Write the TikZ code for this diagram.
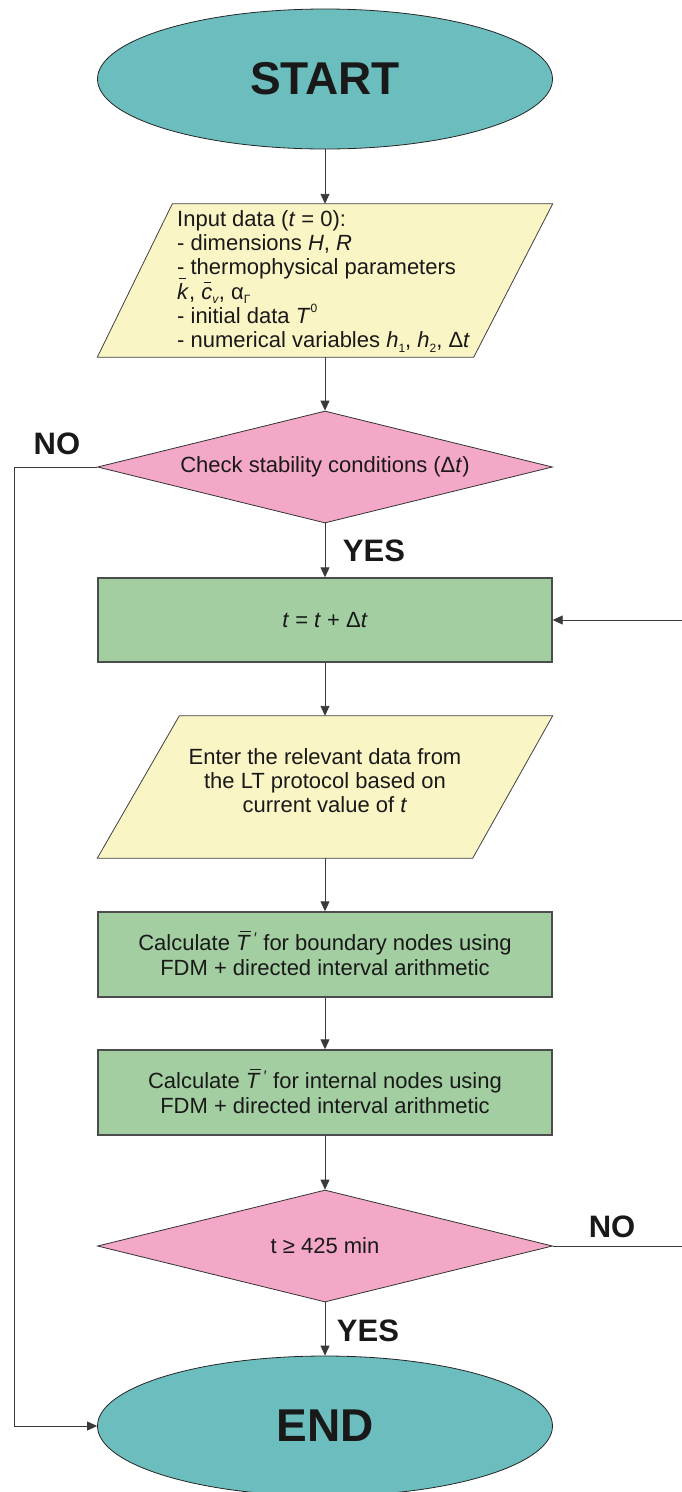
\documentclass[tikz,border=0pt]{standalone}
\usepackage{fontspec}
\setmainfont{Liberation Sans}
\usetikzlibrary{shapes.geometric,arrows.meta,calc}

\definecolor{termteal}{HTML}{6CBDBD}
\definecolor{ioyellow}{HTML}{FAF5C4}
\definecolor{decpink}{HTML}{F4A8C7}
\definecolor{procgreen}{HTML}{A3CEA1}
\definecolor{edgegray}{HTML}{3A3A3A}

% overlined italic letters
\newcommand\barT{\textit{T}\llap{\raisebox{0.86em}[0pt][0pt]{\rule{0.5em}{0.055em}}}\textsuperscript{\,\textit{′}}}
\newcommand\bark{\textit{k}\llap{\raisebox{0.92em}[0pt][0pt]{\rule{0.36em}{0.055em}}\hspace{0.12em}}}
\newcommand\barc{\textit{c}\llap{\raisebox{0.72em}[0pt][0pt]{\rule{0.36em}{0.055em}}\hspace{0.04em}}}
% small lowered / raised indices
\newcommand\lowidx[1]{\raisebox{-0.22em}{\fontsize{12}{12}\selectfont #1}}
\newcommand\highidx[1]{\raisebox{0.5em}{\fontsize{12}{12}\selectfont #1}}

\tikzset{
  every node/.style={font=\fontsize{22}{24.3}\selectfont, text=black!90},
  term/.style={ellipse, draw=black!85, line width=0.8pt, fill=termteal,
    minimum width=455pt, minimum height=140pt, inner sep=0pt,
    font=\fontsize{46}{50}\selectfont\bfseries},
  decide/.style={diamond, draw=black!80, line width=0.8pt, fill=decpink,
    minimum width=455pt, minimum height=112pt, inner sep=0pt, aspect=4},
  procbox/.style={rectangle, draw=black!70, line width=1.4pt, fill=procgreen,
    minimum width=454pt, minimum height=85pt, inner sep=0pt, align=center,
    font=\fontsize{22}{25}\selectfont},
  iobox/.style={rectangle, minimum width=455pt, inner sep=0pt},
  ioshape/.style={draw=black!75, line width=0.8pt, fill=ioyellow},
  flow/.style={draw=edgegray, line width=0.9pt, -{Triangle[length=10pt,width=9pt]}},
  answer/.style={font=\fontsize{31}{34}\selectfont\bfseries, inner sep=0pt},
}

\begin{document}
\begin{tikzpicture}[x=1pt, y=-1pt]
\useasboundingbox (0,0) rectangle (682,1492);
\clip (0,0) rectangle (682,1492);

% terminals
\node[term] (start) at (325,79) {START};

% input data
\node[iobox, minimum height=153pt] (in1) at (325,280.5) {};
\draw[ioshape] ($(in1.north west)+(75,0)$) -- (in1.north east)
  -- ($(in1.south east)-(79,0)$) -- (in1.south west) -- cycle;
\node[anchor=north west, align=left, inner sep=0pt] (in1text) at (177,210)
  {Input data (\textit{t} = 0):\\
   - dimensions \textit{H}, \textit{R}\\
   - thermophysical parameters\\
   \bark, \barc\lowidx{\textit{v}}, α\lowidx{Γ}\\
   - initial data \textit{T}\highidx{0}\\
   - numerical variables \textit{h}\lowidx{1}, \textit{h}\lowidx{2}, Δ\textit{t}};

% stability check
\node[decide] (chk) at (325,467) {Check stability conditions (Δ\textit{t})};

% time step
\node[procbox, minimum height=84pt] (step1) at (325,620) {\textit{t} = \textit{t} + Δ\textit{t}};

% LT protocol data
\node[iobox, minimum height=142pt] (in2) at (325,787) {};
\draw[ioshape] ($(in2.north west)+(82,0)$) -- (in2.north east)
  -- ($(in2.south east)-(80,0)$) -- (in2.south west) -- cycle;
\node[align=center, inner sep=0pt, font=\fontsize{22}{24}\selectfont] (in2text) at (325,781)
  {Enter the relevant data from\\the LT protocol based on\\current value of \textit{t}};

% computations
\node[procbox] (bnd) at (325,954.5)
  {Calculate \barT{} for boundary nodes using\\FDM + directed interval arithmetic};
\node[procbox] (int) at (325,1092.5)
  {Calculate \barT{} for internal nodes using\\FDM + directed interval arithmetic};

% end-time check
\node[decide] (tchk) at (325,1246) {t ≥ 425 min};

\node[term] (end) at (325,1426) {END};

% main flow
\draw[flow] (start) -- (in1.north);
\draw[flow] (in1.south) -- (chk.north);
\draw[flow] (chk.south) -- (step1.north);
\draw[flow] (step1.south) -- (in2.north);
\draw[flow] (in2.south) -- (bnd.north);
\draw[flow] (bnd.south) -- (int.north);
\draw[flow] (int.south) -- (tchk.north);
\draw[flow] (tchk.south) -- (end.north);

% branches
\coordinate (lft) at (14,467);
\coordinate (rgt) at (685,1246);
\draw[flow] (chk.west) -- (lft) |- (end.west);
\draw[flow] (tchk.east) -- (rgt) |- (step1.east);

% branch labels
\node[answer] (no1) at (57,444) {NO};
\node[answer] (yes1) at (374,551) {YES};
\node[answer] (no2) at (612,1227) {NO};
\node[answer] (yes2) at (368,1331) {YES};
\end{tikzpicture}
\end{document}
